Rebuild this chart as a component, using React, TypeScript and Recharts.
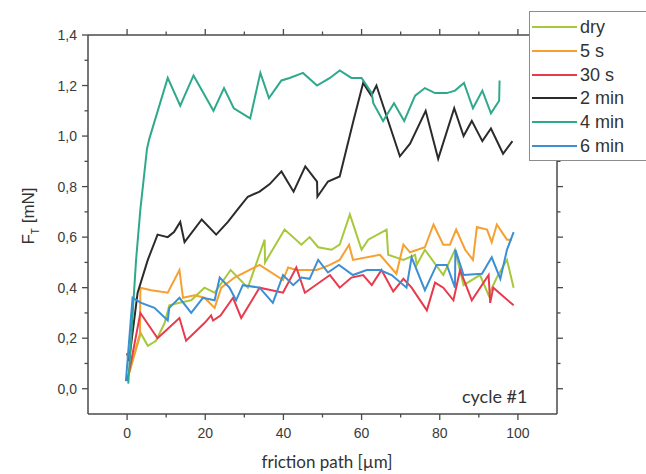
import { LineChart, Line, XAxis, YAxis } from "recharts";

// friction force F_T [mN] over friction path [µm], cycle #1
const seriesNames = ["dry", "5 s", "30 s", "2 min", "4 min", "6 min"];
const seriesColors = ["#a8c83c", "#f5a031", "#e83a4c", "#2b2b2b", "#2fa98c", "#3b8fd4"];

const dryX = [0.5, 3.5, 5.3, 7.4, 9.6, 10.8, 13.4, 16.4, 19.8, 22.4, 26.5, 30.9, 35.2, 35.3, 40.3, 44.6, 46.7, 48.9, 52.3, 54.4, 57, 60, 61.7, 66.4, 66.8, 70.7, 73.7, 74.1, 76.2, 80.9, 83.9, 86.1, 90.3, 92.5, 94.6, 97.2, 98.9];
const dryY = [0.06, 0.22, 0.17, 0.19, 0.26, 0.33, 0.34, 0.35, 0.4, 0.38, 0.47, 0.4, 0.59, 0.5, 0.63, 0.57, 0.6, 0.56, 0.55, 0.57, 0.69, 0.55, 0.59, 0.63, 0.53, 0.51, 0.53, 0.49, 0.55, 0.45, 0.55, 0.41, 0.45, 0.37, 0.44, 0.51, 0.4];

const s5X = [0.3, 3.3, 3.4, 6.2, 10.4, 13.4, 14.3, 17.3, 19.8, 22.4, 24.1, 27.5, 33.9, 39.9, 41.2, 43.3, 48.5, 51.9, 54.4, 56.8, 57.8, 64.7, 68.9, 70.7, 72.4, 76.2, 78.4, 80.9, 82.6, 84.2, 86.5, 88.5, 89.5, 92.1, 93.3, 94.6, 97.2, 98.5];
const s5Y = [0.05, 0.22, 0.4, 0.39, 0.38, 0.47, 0.36, 0.37, 0.36, 0.32, 0.4, 0.44, 0.49, 0.43, 0.48, 0.47, 0.47, 0.49, 0.51, 0.57, 0.51, 0.53, 0.455, 0.57, 0.54, 0.56, 0.65, 0.57, 0.57, 0.63, 0.55, 0.51, 0.64, 0.63, 0.58, 0.65, 0.59, 0.59];

const s30X = [0, 1, 3.4, 7.8, 13.4, 15.1, 19.8, 21.5, 22, 23.9, 27.1, 29.2, 33.9, 39.9, 43.3, 45.5, 51.9, 54.4, 57.4, 60.4, 62.6, 65.1, 68.1, 70.7, 72.8, 76.7, 78.8, 80.9, 83.5, 85.2, 88.2, 92.5, 92.9, 93.7, 98.9];
const s30Y = [0.03, 0.105, 0.3, 0.2, 0.28, 0.19, 0.26, 0.29, 0.27, 0.29, 0.36, 0.28, 0.4, 0.38, 0.48, 0.38, 0.45, 0.4, 0.44, 0.45, 0.41, 0.47, 0.385, 0.435, 0.4, 0.31, 0.42, 0.4, 0.35, 0.47, 0.35, 0.45, 0.34, 0.4, 0.33];

const m2X = [0, 0.5, 2.7, 5.3, 7.8, 10.4, 12, 13.6, 14.7, 19.1, 22.8, 25.8, 28.8, 30.9, 33.9, 36.5, 39.5, 42.6, 45.6, 48.6, 48.7, 51.4, 54.4, 57.9, 60.4, 62.5, 63.8, 69.8, 72.4, 76.4, 79.6, 83.7, 86.1, 88.2, 90.9, 93.1, 96.2, 98.6];
const m2Y = [0.14, 0.11, 0.38, 0.51, 0.61, 0.6, 0.62, 0.66, 0.58, 0.67, 0.61, 0.66, 0.72, 0.76, 0.78, 0.81, 0.86, 0.78, 0.88, 0.82, 0.76, 0.82, 0.84, 1.06, 1.21, 1.16, 1.2, 0.92, 0.97, 1.1, 0.91, 1.11, 1.0, 1.06, 0.98, 1.03, 0.93, 0.98];

const m4X = [0.3, 2.3, 3.4, 5.1, 5.7, 10.4, 13.6, 17, 22.1, 24.8, 27.3, 31.5, 34.1, 36.3, 39.5, 41.6, 45, 48.6, 51.9, 54.4, 57.4, 60, 62.6, 63, 65.5, 68.3, 70.9, 73.7, 76.2, 78.8, 81.8, 83.9, 86.2, 88.5, 90.9, 93.1, 95.2, 95.3];
const m4Y = [0.02, 0.51, 0.71, 0.95, 0.99, 1.23, 1.12, 1.24, 1.1, 1.19, 1.11, 1.07, 1.25, 1.15, 1.22, 1.23, 1.25, 1.2, 1.23, 1.26, 1.23, 1.23, 1.17, 1.13, 1.06, 1.13, 1.06, 1.16, 1.19, 1.17, 1.17, 1.18, 1.21, 1.11, 1.18, 1.09, 1.14, 1.22];

const m6X = [-0.3, 1.4, 3.6, 7, 10.4, 10.8, 13.4, 16.4, 19.4, 22.4, 23.7, 26.2, 27.9, 29.6, 33.9, 37.3, 39.9, 42.5, 44.6, 46.7, 48.9, 51.4, 54.2, 57.8, 61.3, 64.7, 67.7, 71.5, 72.8, 76.2, 79.2, 81.8, 83.9, 84, 86.1, 90.8, 93.3, 95.5, 97.2, 98.9];
const m6Y = [0.03, 0.36, 0.34, 0.32, 0.27, 0.32, 0.36, 0.3, 0.36, 0.35, 0.44, 0.4, 0.35, 0.41, 0.4, 0.34, 0.45, 0.41, 0.44, 0.435, 0.51, 0.46, 0.49, 0.45, 0.47, 0.47, 0.45, 0.4, 0.52, 0.39, 0.49, 0.49, 0.4, 0.55, 0.45, 0.455, 0.52, 0.435, 0.55, 0.62];

const xTicks = [0, 10, 20, 30, 40, 50, 60, 70, 80, 90, 100];
const yTicks = [0, 0.1, 0.2, 0.3, 0.4, 0.5, 0.6, 0.7, 0.8, 0.9, 1.0, 1.1, 1.2, 1.3, 1.4];

const toPoints = (xs: number[], ys: number[]) => xs.map((x, i) => ({ x, y: ys[i] }));
const seriesData = [
  toPoints(dryX, dryY),
  toPoints(s5X, s5Y),
  toPoints(s30X, s30Y),
  toPoints(m2X, m2Y),
  toPoints(m4X, m4Y),
  toPoints(m6X, m6Y),
];

const axisColor = "#4a4a4a";
const tickFont = "'Liberation Sans', Arial, sans-serif";

// draws the tick mark itself (outward) plus label for the major ones
function Tick(props: any) {
  const { x, y, payload, side } = props;
  const v = payload.value;
  const isX = side === "bottom" || side === "top";
  const major = isX ? Math.round(v) % 20 === 0 : Math.round(v * 10) % 2 === 0;
  const len = major ? 6 : 3.5;
  let line;
  if (side === "bottom") line = <line x1={x} x2={x} y1={y} y2={y + len} />;
  else if (side === "top") line = <line x1={x} x2={x} y1={y} y2={y - len} />;
  else if (side === "left") line = <line x1={x} x2={x - len} y1={y} y2={y} />;
  else line = <line x1={x} x2={x + len} y1={y} y2={y} />;
  let label = null;
  if (major && side === "left") {
    label = (
      <text x={x - 11} y={y} dy={5} textAnchor="end" fontSize={14} fill="#3a3a3a" stroke="none" fontFamily={tickFont}>
        {v.toFixed(1).replace(".", ",")}
      </text>
    );
  } else if (major && side === "bottom") {
    label = (
      <text x={x} y={y + 24} textAnchor="middle" fontSize={14} fill="#3a3a3a" stroke="none" fontFamily={tickFont}>
        {String(v)}
      </text>
    );
  }
  return (
    <g stroke={axisColor} strokeWidth={1.3}>
      {line}
      {label}
    </g>
  );
}

export default function App() {
  return (
    <div style={{ position: "relative", width: 646, height: 474, background: "#fff", overflow: "hidden" }}>
      <style>{"body{margin:0}"}</style>
      <LineChart width={646} height={474} margin={{ top: 27, right: 81, bottom: 0, left: 28 }}>
        <XAxis
          type="number"
          dataKey="x"
          domain={[-10, 110]}
          ticks={xTicks}
          interval={0}
          height={60}
          tickSize={0}
          tickMargin={0}
          tickLine={false}
          allowDataOverflow
          axisLine={{ stroke: axisColor, strokeWidth: 1.5 }}
          tick={(p: any) => <Tick {...p} side="bottom" />}
        />
        <XAxis
          xAxisId="top"
          orientation="top"
          type="number"
          dataKey="x"
          domain={[-10, 110]}
          ticks={xTicks}
          interval={0}
          height={8}
          tickSize={0}
          tickMargin={0}
          tickLine={false}
          allowDataOverflow
          axisLine={{ stroke: axisColor, strokeWidth: 1.5 }}
          tick={(p: any) => <Tick {...p} side="top" />}
        />
        <YAxis
          type="number"
          dataKey="y"
          domain={[-0.1, 1.4]}
          ticks={yTicks}
          interval={0}
          width={60}
          tickSize={0}
          tickMargin={0}
          tickLine={false}
          allowDataOverflow
          axisLine={{ stroke: axisColor, strokeWidth: 1.5 }}
          tick={(p: any) => <Tick {...p} side="left" />}
        />
        <YAxis
          yAxisId="right"
          orientation="right"
          type="number"
          dataKey="y"
          domain={[-0.1, 1.4]}
          ticks={yTicks}
          interval={0}
          width={8}
          tickSize={0}
          tickMargin={0}
          tickLine={false}
          allowDataOverflow
          axisLine={{ stroke: axisColor, strokeWidth: 1.5 }}
          tick={(p: any) => <Tick {...p} side="right" />}
        />
        {seriesData.map((d, i) => (
          <Line
            key={seriesNames[i]}
            data={d}
            dataKey="y"
            type="linear"
            stroke={seriesColors[i]}
            strokeWidth={2}
            dot={false}
            activeDot={false}
            isAnimationActive={false}
          />
        ))}
      </LineChart>

      {/* axis titles */}
      <div
        style={{
          position: "absolute",
          left: 30,
          top: 216,
          transform: "translate(-50%, -50%) rotate(-90deg)",
          whiteSpace: "nowrap",
          fontFamily: tickFont,
          fontSize: 17,
          color: "#333",
        }}
      >
        F<sub style={{ fontSize: 10 }}>T</sub> [mN]
      </div>
      <div
        style={{
          position: "absolute",
          left: 327,
          top: 452,
          lineHeight: "20px",
          transform: "translateX(-50%)",
          whiteSpace: "nowrap",
          fontFamily: "Lato, 'Open Sans', sans-serif",
          fontSize: 17,
          color: "#333",
        }}
      >
        friction path [µm]
      </div>
      <div
        style={{
          position: "absolute",
          left: 462,
          top: 386,
          lineHeight: "20px",
          whiteSpace: "nowrap",
          fontFamily: "Lato, 'Open Sans', sans-serif",
          fontSize: 18,
          color: "#333",
        }}
      >
        cycle #1
      </div>

      {/* legend box */}
      <div
        style={{
          position: "absolute",
          left: 529,
          top: 11,
          width: 130,
          height: 148,
          border: "1px solid #8c8c8c",
          background: "#fff",
        }}
      >
        {seriesNames.map((name, i) => (
          <div key={name} style={{ position: "absolute", left: 0, top: 15 + i * 23.8 - 10, height: 20, width: 128 }}>
            <div
              style={{
                position: "absolute",
                left: 2,
                top: 9,
                width: 45,
                height: 2,
                background: seriesColors[i],
              }}
            />
            <div
              style={{
                position: "absolute",
                left: 50,
                top: 0,
                lineHeight: "20px",
                fontFamily: tickFont,
                fontSize: 18,
                color: "#333",
                whiteSpace: "nowrap",
              }}
            >
              {name}
            </div>
          </div>
        ))}
      </div>
    </div>
  );
}
